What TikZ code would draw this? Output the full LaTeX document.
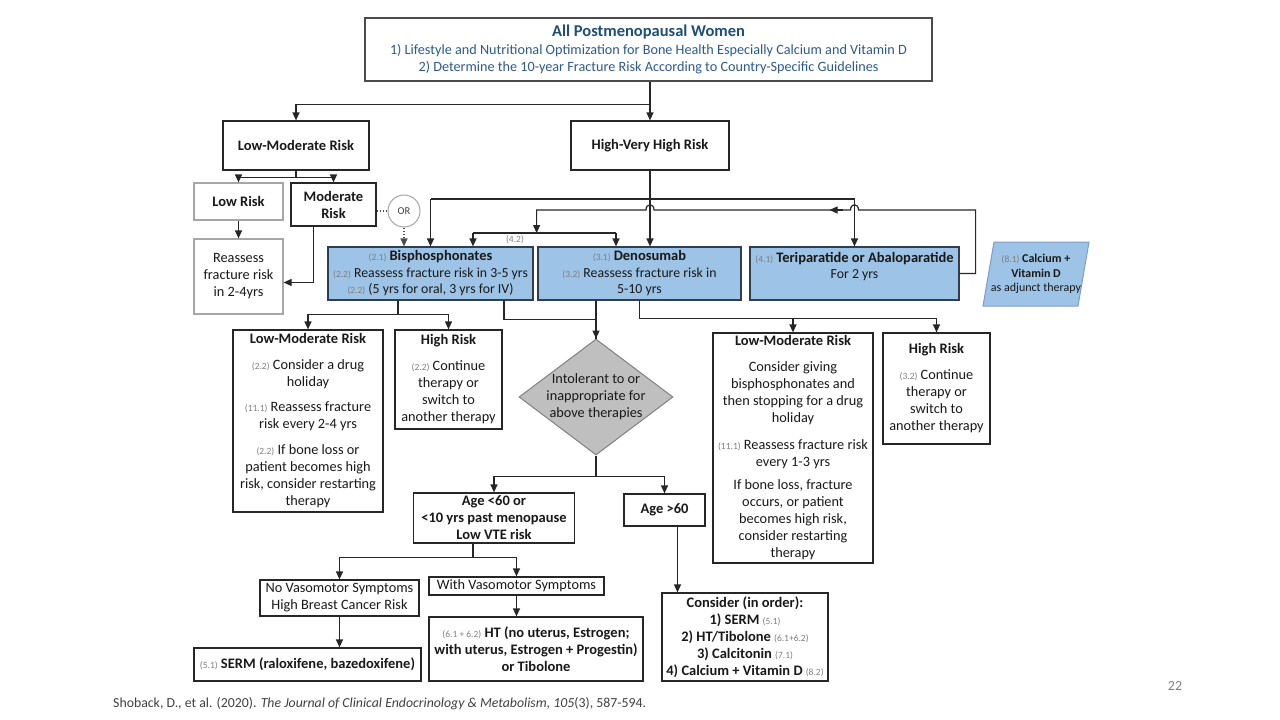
\documentclass[tikz,border=0pt]{standalone}
\usepackage{fontspec}
\setmainfont{Carlito}
\usetikzlibrary{arrows.meta,shapes.geometric}
\definecolor{drugblue}{HTML}{9DC3E6}
\definecolor{drugedge}{HTML}{2F3E50}
\definecolor{headblue}{HTML}{1F4E79}
\definecolor{lineblue}{HTML}{2E5A8C}
\definecolor{numgray}{HTML}{808080}
\definecolor{softgray}{HTML}{A6A6A6}
\definecolor{diamgray}{HTML}{BFBFBF}
\definecolor{adjedge}{HTML}{7F9CC8}
\newcommand{\refno}[1]{{\fontsize{9.5}{10}\selectfont\color{numgray}(#1)}}
\newcommand{\hd}[1]{{\fontsize{14.5}{17}\selectfont\bfseries #1}}

\begin{document}
\begin{tikzpicture}[x=1pt,y=-1pt,
  every node/.style={inner sep=0pt, align=center},
  riskbox/.style={draw=black!85, line width=1.2pt, fill=white, text=black!90,
    font=\fontsize{14.3}{17}\selectfont},
  softbox/.style={riskbox, draw=softgray},
  drugbox/.style={riskbox, draw=drugedge, fill=drugblue, font=\fontsize{13.8}{16.5}\selectfont},
  link/.style={line width=1.2pt, black!85},
  arr/.style={link, -{Triangle[length=8pt,width=7pt]}},
  orlink/.style={link, black!70, dash pattern=on 1.5pt off 1.5pt}]
\useasboundingbox (0,0) rectangle (1280,720);

% top of the tree
\node[riskbox, draw=black!70, text=lineblue, minimum width=567, minimum height=63,
  font=\fontsize{14.2}{17.5}\selectfont] (all) at (648.5,49.5)
  {{\fontsize{16.5}{18}\selectfont\bfseries\color{headblue}All Postmenopausal Women}\\
   1) Lifestyle and Nutritional Optimization for Bone Health Especially Calcium and Vitamin D\\
   2) Determine the 10-year Fracture Risk According to Country-Specific Guidelines};
\node[riskbox, minimum width=146, minimum height=49] (lowmod) at (296,145.5) {\hd{Low-Moderate Risk}};
\node[riskbox, minimum width=158, minimum height=49] (hvh) at (650,145.5) {\hd{High-Very High Risk}};

% low-moderate branch
\node[softbox, minimum width=89, minimum height=37] (lowrisk) at (238.5,201.5) {\hd{Low Risk}};
\node[riskbox, minimum width=85, minimum height=43] (modrisk) at (333.5,204.5) {\hd{Moderate}\\ \hd{Risk}};
\node[softbox, minimum width=89, minimum height=75] (reassess) at (238.5,276.5) {Reassess\\ fracture risk\\ in 2-4yrs};
\node[circle, draw=softgray, line width=1pt, fill=white, minimum size=32,
  font=\fontsize{10.5}{12}\selectfont, text=black!75] (orc) at (404,211) {OR};

% drugs
\node[drugbox, minimum width=205, minimum height=53] (bis) at (430.5,273.5)
  {\refno{2.1} \hd{Bisphosphonates}\\ \refno{2.2} Reassess fracture risk in 3-5 yrs\\
   \refno{2.2} (5 yrs for oral, 3 yrs for IV)};
\node[drugbox, minimum width=203, minimum height=53] (deno) at (639.5,273.5)
  {\refno{3.1} \hd{Denosumab}\\ \refno{3.2} Reassess fracture risk in\\ 5-10 yrs};
\node[drugbox, minimum width=209, minimum height=53] (teri) at (854.5,273.5)
  {\refno{4.1} \hd{Teriparatide or Abaloparatide}\\ For 2 yrs\\ ~};
\draw[line width=1pt, draw=adjedge, fill=drugblue] (994,242) -- (1089,242) -- (1078,306) -- (983,306) -- cycle;
\node[font=\fontsize{12}{14.5}\selectfont, text=black!90] (calc) at (1036,274)
  {\refno{8.1} {\bfseries Calcium +}\\ {\bfseries Vitamin D}\\ as adjunct therapy};

% after bisphosphonates / denosumab
\node[riskbox, minimum width=150, minimum height=182] (bislow) at (308,421)
  {\hd{Low-Moderate Risk}\\[9pt]
   \refno{2.2} Consider a drug\\ holiday\\[8pt]
   \refno{11.1} Reassess fracture\\ risk every 2-4 yrs\\[9pt]
   \refno{2.2} If bone loss or\\ patient becomes high\\ risk, consider restarting\\ therapy};
\node[riskbox, minimum width=107, minimum height=99] (bishigh) at (448.5,379.5)
  {\hd{High Risk}\\[9pt] \refno{2.2} Continue\\ therapy or\\ switch to\\ another therapy};
\node[diamond, draw=gray, line width=1pt, fill=diamgray, minimum width=154, minimum height=116] (intol) at (596,397) {};
\node[font=\fontsize{14.3}{17}\selectfont, text=black!90] (intoltext) at (intol.center)
  {Intolerant to or\\ inappropriate for\\ above therapies};
\node[riskbox, minimum width=160, minimum height=230] (denolow) at (793,448)
  {\hd{Low-Moderate Risk}\\[9pt]
   Consider giving\\ bisphosphonates and\\ then stopping for a drug\\ holiday\\[10pt]
   \refno{11.1} Reassess fracture risk\\ every 1-3 yrs\\[6pt]
   If bone loss, fracture\\ occurs, or patient\\ becomes high risk,\\ consider restarting\\ therapy};
\node[riskbox, minimum width=107, minimum height=111] (denohigh) at (936.5,388.5)
  {\hd{High Risk}\\[9pt] \refno{3.2} Continue\\ therapy or\\ switch to\\ another therapy};

% intolerant branch
\node[riskbox, minimum width=161, minimum height=50] (young) at (494,518)
  {\hd{Age <60 or}\\ \hd{<10 yrs past menopause}\\ \hd{Low VTE risk}};
\node[riskbox, minimum width=81, minimum height=32] (old) at (664.5,510) {\hd{Age >60}};
\node[riskbox, minimum width=159, minimum height=36] (novaso) at (339.5,598)
  {No Vasomotor Symptoms\\ High Breast Cancer Risk};
\node[riskbox, minimum width=175, minimum height=18] (withvaso) at (516.5,586) {With Vasomotor Symptoms};
\node[riskbox, minimum width=227, minimum height=33] (serm) at (307.5,664.5)
  {\refno{5.1} \hd{SERM (raloxifene, bazedoxifene)}};
\node[riskbox, minimum width=214, minimum height=64] (ht) at (536,649)
  {\refno{6.1 + 6.2} \hd{HT (no uterus, Estrogen;}\\ \hd{with uterus, Estrogen + Progestin)}\\ \hd{or Tibolone}};
\node[riskbox, minimum width=166, minimum height=88] (consider) at (745,637)
  {\hd{Consider (in order):}\\ \hd{1) SERM} \refno{5.1}\\ \hd{2) HT/Tibolone} \refno{6.1+6.2}\\
   \hd{3) Calcitonin} \refno{7.1}\\ \hd{4) Calcium + Vitamin D} \refno{8.2}};

% connectors
\coordinate (railA) at (0,199);
\coordinate (railB) at (0,210);
\coordinate (railC) at (0,233);
\coordinate (topsplit) at ([yshift=-23pt]hvh.north |- all.south);
\draw[arr] (hvh.north |- all.south) -- (hvh.north);
\draw[arr] (topsplit) -| (lowmod.north);
\draw[link] (lowmod.south) -- ++(0,7) coordinate (lmsplit);
\draw[arr] (lmsplit) -| (lowrisk.north);
\draw[arr] (lmsplit) -| (modrisk.north);
\draw[arr] (lowrisk.south) -- (reassess.north);
\draw[arr] ([xshift=-20pt]modrisk.south) |- ([yshift=-6pt]reassess.east);
\draw[orlink] (modrisk.east |- orc) -- (orc.west);
\draw[orlink, -{Triangle[length=8pt,width=7pt]}] (orc.south) -- (orc.south |- bis.north);

\draw[arr] (hvh.south) -- (hvh.south |- deno.north);
\draw[link] (bis.north |- railA) -- (teri.north |- railA);
\draw[arr] (bis.north |- railA) -- (bis.north);
\draw[arr] (teri.north |- railA) -- (teri.north);
\coordinate (bend) at ([xshift=16pt]teri.east);
\coordinate (drop) at ([xshift=3pt]bis.north east);
\coordinate (hopT) at (teri.north |- railB);
\coordinate (hopH) at (hvh.south |- railB);
\draw[arr] (teri.east) -- (bend) -- (bend |- railB)
  -- ([xshift=4pt]hopT) .. controls +(0,-7) and +(0,-7) .. ([xshift=-4pt]hopT)
  -- ([xshift=4pt]hopH) .. controls +(0,-7) and +(0,-7) .. ([xshift=-4pt]hopH)
  -- (drop |- railB) -- (drop |- railC);
\draw[arr] ([xshift=-12pt]hopT) -- ([xshift=-25pt]hopT);
\coordinate (c42l) at ([xshift=42.5pt]bis.north);
\coordinate (c42r) at ([xshift=-23.5pt]deno.north);
\draw[link] (c42l |- railC) -- (c42r |- railC);
\draw[arr] (c42l |- railC) -- (c42l);
\draw[arr] (c42r |- railC) -- (c42r);
\node[font=\fontsize{9.5}{10}\selectfont, text=numgray] (tag42) at (515,239.5) {(4.2)};

\draw[link] ([xshift=-32.5pt]bis.south) -- ++(0,14) coordinate (bsplit);
\draw[arr] (bsplit) -| (bislow.north);
\draw[arr] (bsplit) -| (bishigh.north);
\draw[link] ([xshift=73.5pt]bis.south) -- ++(0,19) -| (intol.north);
\draw[arr] (deno.south -| intol.north) -- (intol.north);
\draw[link] (deno.south) -- ++(0,18) coordinate (dsplit);
\draw[arr] (dsplit) -| (denolow.north);
\draw[arr] (dsplit) -| (denohigh.north);

\draw[link] (intol.south) -- ++(0,21) coordinate (isplit);
\draw[arr] (isplit) -| (young.north);
\draw[arr] (isplit) -| (old.north);
\draw[link] ([xshift=-21pt]young.south) -- ++(0,14) coordinate (ysplit);
\draw[arr] (ysplit) -| (novaso.north);
\draw[arr] (ysplit) -| (withvaso.north);
\draw[arr] (novaso.south) -- (novaso.south |- serm.north);
\draw[arr] (withvaso.south) -- (withvaso.south |- ht.north);
\draw[arr] ([xshift=13pt]old.south) -- ([xshift=13pt]old.south |- consider.north);

% footer
\node[anchor=west, font=\fontsize{13.8}{15}\selectfont, text=black!75] (cite) at (113,704)
  {Shoback, D., et al. (2020). \textit{The Journal of Clinical Endocrinology \& Metabolism, 105}(3), 587-594.};
\node[font=\fontsize{14}{16}\selectfont, text=black!50] (pageno) at (1175,686) {22};
\end{tikzpicture}
\end{document}
